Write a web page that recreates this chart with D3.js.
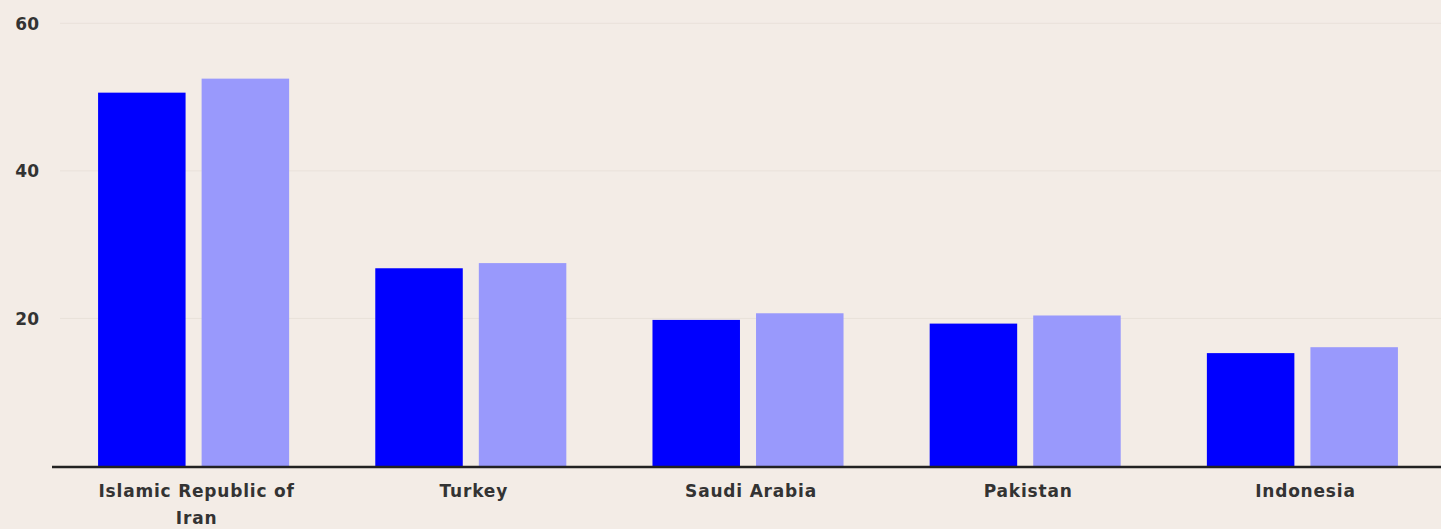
<!DOCTYPE html>
<html><head><meta charset="utf-8">
<script src="https://cdn.jsdelivr.net/npm/d3@7"></script>
<style>
html,body{margin:0;padding:0;background:#f3ece6;}
svg{display:block;}
text{font-family:"DejaVu Sans",sans-serif;fill:#333;}
</style></head>
<body>
<svg id="chart" width="1441" height="529"></svg>
<script>
const categories = ["Islamic Republic of Iran","Turkey","Saudi Arabia","Pakistan","Indonesia"];
const seriesNames = ["s1","s2"];
const series1 = [50.6, 26.8, 19.8, 19.3, 15.3];
const series2 = [52.5, 27.5, 20.7, 20.4, 16.1];
const yTicks = [20, 40, 60];
const colors = ["#0000ff", "#9999fc"];

const W = 1441, H = 529;
const FONT = "'DejaVu Sans',sans-serif";
const svg = d3.select("#chart");
svg.append("rect").attr("width", W).attr("height", H).attr("fill", "#f3ece6");

const x0 = d3.scaleBand().domain(categories).range([55, 1441]).padding(0);
const x1 = d3.scaleBand().domain(seriesNames).range([0, x0.bandwidth()]).paddingInner(0.155).paddingOuter(0.416);
const y = d3.scaleLinear().domain([0, 60]).range([466, 23.3]);

// gridlines
svg.append("g").selectAll("line").data(yTicks).join("line")
  .attr("x1", 60).attr("x2", W)
  .attr("y1", d => y(d)).attr("y2", d => y(d))
  .attr("stroke", "#e9e1da").attr("stroke-width", 1);

// y labels
const yAxis = d3.axisLeft(y).tickValues(yTicks).tickSize(0).tickPadding(0);
const yg = svg.append("g").attr("transform", "translate(39,0)").call(yAxis);
yg.select(".domain").remove();
yg.selectAll("text").attr("font-size", 17).attr("font-weight", "bold")
  .attr("fill", "#333").style("font-family", FONT).attr("dy", "0.36em");

// bars
const data = categories.map((c, i) => ({cat: c, vals: [series1[i], series2[i]]}));
const g = svg.append("g").selectAll("g").data(data).join("g")
  .attr("transform", d => `translate(${x0(d.cat)},0)`);
g.selectAll("rect").data(d => d.vals.map((v, j) => ({v, s: seriesNames[j], j})))
  .join("rect")
  .attr("x", d => x1(d.s))
  .attr("width", x1.bandwidth())
  .attr("y", d => y(d.v))
  .attr("height", d => y(0) - y(d.v))
  .attr("fill", d => colors[d.j]);

// x axis
const xAxis = d3.axisBottom(x0).tickSize(0).tickPadding(0);
const xg = svg.append("g").attr("transform", `translate(0,${y(0)})`).call(xAxis);
xg.select(".domain").remove();
svg.append("line").attr("x1", 52).attr("x2", W).attr("y1", y(0) + 1).attr("y2", y(0) + 1)
  .attr("stroke", "#222").attr("stroke-width", 2.5);

xg.selectAll("text").each(function(d) {
  const t = d3.select(this);
  t.text(null).attr("dy", null).attr("font-size", 17).attr("font-weight", "bold")
    .style("font-family", FONT).style("letter-spacing", "0.8px").attr("fill", "#333");
  const lines = d === "Islamic Republic of Iran" ? ["Islamic Republic of", "Iran"] : [d];
  lines.forEach((l, i) => {
    t.append("tspan").attr("x", 3).attr("y", 31 + i * 27).text(l);
  });
});
</script>
</body></html>
